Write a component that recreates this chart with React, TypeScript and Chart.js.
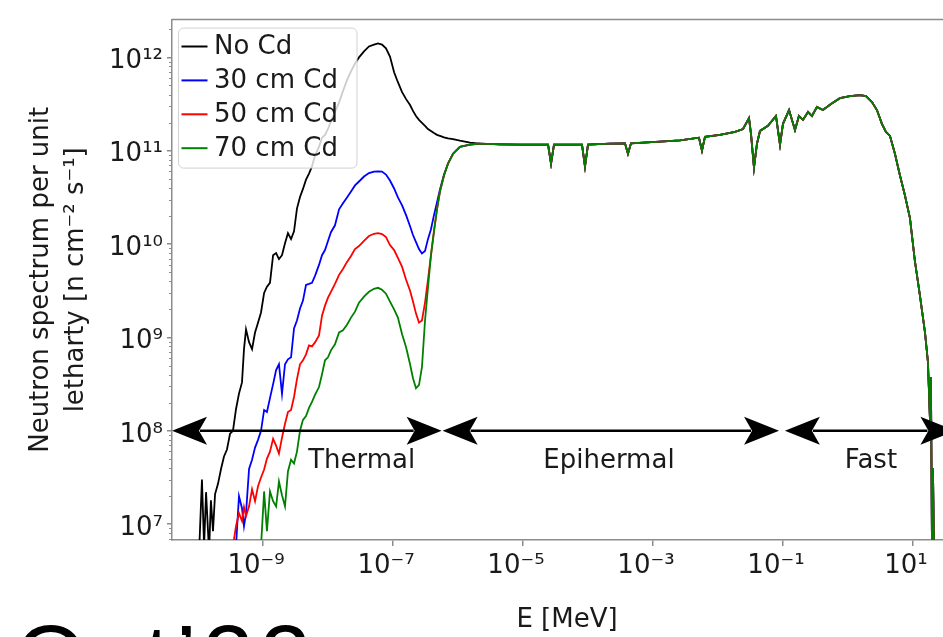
import React, { useEffect, useRef } from 'react';
import { Chart, registerables } from 'chart.js';

Chart.register(...registerables);

// ---------- data ----------
const seriesLabels = ['No Cd', '30 cm Cd', '50 cm Cd', '70 cm Cd'];
const seriesColors = ['#000000', '#0000ff', '#ff0000', '#008000'];

// thermal / transition region energies (MeV)
const energyLow = [
  1.04e-10, 1.15e-10, 1.24e-10, 1.33e-10, 1.48e-10, 1.58e-10, 1.70e-10, 1.83e-10, 2.03e-10, 2.26e-10,
  2.51e-10, 2.79e-10, 3.11e-10, 3.45e-10, 3.84e-10, 4.27e-10, 4.75e-10, 5.10e-10, 5.48e-10, 6.10e-10,
  6.78e-10, 7.54e-10, 8.38e-10, 9.32e-10, 1.04e-9, 1.15e-9, 1.28e-9, 1.43e-9, 1.59e-9, 1.76e-9,
  1.96e-9, 2.18e-9, 2.42e-9, 2.70e-9, 3.00e-9, 3.33e-9, 3.71e-9, 4.12e-9, 4.59e-9, 5.10e-9,
  5.67e-9, 6.31e-9, 7.27e-9, 8.09e-9, 8.99e-9, 1.00e-8, 1.11e-8, 1.28e-8, 1.48e-8, 1.70e-8,
  1.96e-8, 2.26e-8, 2.60e-8, 3.00e-8, 3.58e-8, 4.27e-8, 5.10e-8, 5.88e-8, 6.78e-8, 7.80e-8,
  8.99e-8, 1.04e-7, 1.19e-7, 1.38e-7, 1.59e-7, 1.83e-7, 2.03e-7, 2.26e-7, 2.51e-7, 2.79e-7,
  3.11e-7, 3.45e-7, 3.84e-7, 4.27e-7, 4.75e-7, 5.28e-7, 6.09e-7, 7.02e-7, 8.38e-7, 1.07e-6,
  1.53e-6,
];

const fluxNoCdLow = [
  5.0e6, 3.0e7, 5.8e6, 2.2e7, 5.0e6, 1.8e7, 8.4e6, 2.1e7, 2.7e7, 3.9e7,
  5.3e7, 6.3e7, 9.3e7, 1.0e8, 1.7e8, 2.5e8, 3.3e8, 7.5e8, 1.22e9, 8.9e8,
  7.5e8, 1.13e9, 1.44e9, 1.85e9, 3.0e9, 3.5e9, 3.85e9, 7.6e9, 8.0e9, 6.9e9,
  7.6e9, 1.02e10, 1.31e10, 1.13e10, 1.37e10, 2.4e10, 3.2e10, 3.9e10, 4.9e10, 5.7e10,
  6.8e10, 8.9e10, 1.10e11, 1.38e11, 1.48e11, 1.71e11, 2.08e11, 2.6e11, 3.3e11, 4.35e11,
  5.7e11, 7.1e11, 8.6e11, 1.0e12, 1.16e12, 1.31e12, 1.37e12, 1.41e12, 1.37e12, 1.25e12,
  1.02e12, 6.92e11, 5.42e11, 4.25e11, 3.57e11, 3.09e11, 2.67e11, 2.36e11, 2.14e11, 1.99e11,
  1.85e11, 1.71e11, 1.63e11, 1.55e11, 1.48e11, 1.44e11, 1.39e11, 1.36e11, 1.33e11, 1.28e11,
  1.22e11,
];

const fluxCd30Low = [
  null, null, null, null, null, null, null, null, null, null,
  null, null, null, null, 5.8e6, 1.99e7, 1.48e7, 9.5e6, 1.31e7, 3.9e7,
  4.9e7, 6.6e7, 8.0e7, 1.0e8, 1.67e8, 1.59e8, 2.24e8, 3.16e8, 4.46e8, 5.16e8,
  2.48e8, 5.16e8, 5.83e8, 6.12e8, 1.25e9, 1.52e9, 2.04e9, 2.48e9, 3.66e9, 3.75e9,
  3.85e9, 4.57e9, 5.98e9, 7.6e9, 8.63e9, 1.08e10, 1.34e10, 1.59e10, 2.36e10, 2.73e10,
  3.16e10, 3.66e10, 4.25e10, 4.68e10, 5.29e10, 5.76e10, 5.98e10, 6.0e10, 5.98e10, 5.56e10,
  4.80e10, 3.94e10, 3.16e10, 2.60e10, 2.04e10, 1.55e10, 1.25e10, 1.05e10, 8.85e9, 7.93e9,
  8.43e9, 1.13e10, 1.44e10, 2.04e10, 2.80e10, 3.85e10, 5.56e10, 7.27e10, 9.29e10, 1.10e11,
  1.16e11,
];

const fluxCd50Low = [
  null, null, null, null, null, null, null, null, null, null,
  null, null, null, 5.8e6, 9.5e6, 1.31e7, 1.08e7, 1.52e7, 1.22e7, 1.55e7,
  2.36e7, 1.76e7, 2.54e7, 3.16e7, 3.85e7, 5.04e7, 5.98e7, 8.2e7, 6.92e7, 5.69e7,
  8.43e7, 1.19e8, 1.59e8, 1.67e8, 2.30e8, 3.57e8, 5.16e8, 5.69e8, 6.59e8, 8.22e8,
  8.02e8, 8.85e8, 1.05e9, 1.71e9, 2.19e9, 2.67e9, 3.08e9, 3.75e9, 4.68e9, 5.42e9,
  6.44e9, 7.45e9, 8.85e9, 9.52e9, 1.08e10, 1.22e10, 1.29e10, 1.31e10, 1.28e10, 1.19e10,
  9.76e9, 8.63e9, 7.10e9, 5.69e9, 4.14e9, 3.16e9, 2.42e9, 1.80e9, 1.44e9, 1.52e9,
  2.36e9, 4.14e9, 7.6e9, 1.37e10, 2.36e10, 3.66e10, 5.42e10, 7.27e10, 9.29e10, 1.10e11,
  1.16e11,
];

const fluxCd70Low = [
  null, null, null, null, null, null, null, null, null, null,
  null, null, null, null, null, null, null, null, null, null,
  null, null, null, 5.8e6, 2.24e7, 8.4e6, 2.24e7, 1.76e7, 1.55e7, 2.86e7,
  2.04e7, 1.55e7, 3.66e7, 4.9e7, 4.46e7, 5.98e7, 1.0e8, 1.31e8, 1.44e8, 1.76e8,
  2.04e8, 2.42e8, 2.94e8, 4.04e8, 5.69e8, 6.12e8, 7.27e8, 8.43e8, 1.13e9, 1.19e9,
  1.37e9, 1.63e9, 1.89e9, 2.36e9, 2.73e9, 3.08e9, 3.32e9, 3.40e9, 3.24e9, 2.94e9,
  2.42e9, 2.0e9, 1.63e9, 1.08e9, 7.83e8, 5.16e8, 3.66e8, 2.86e8, 3.08e8, 4.80e8,
  1.52e9, 3.40e9, 7.6e9, 1.37e10, 2.36e10, 3.66e10, 5.42e10, 7.27e10, 9.29e10, 1.10e11,
  1.16e11,
];

// epithermal + fast region, common to all four spectra
const energyHigh = [
  2.18e-6, 4.43e-6, 9.0e-6, 2.43e-5, 2.70e-5, 3.0e-5, 8.09e-5, 8.99e-5, 1.0e-4, 2.18e-4,
  3.71e-4, 4.12e-4, 4.59e-4, 1.28e-3, 2.60e-3, 5.10e-3, 5.67e-3, 6.31e-3, 1.07e-2, 1.83e-2,
  2.43e-2, 3.0e-2, 3.22e-2, 3.58e-2, 3.98e-2, 4.43e-2, 5.87e-2, 7.80e-2, 9.0e-2, 0.100,
  0.124, 0.153, 0.176, 0.203, 0.243, 0.279, 0.333, 0.412, 0.547, 0.753,
  1.07, 1.53, 1.89, 2.34, 2.79, 3.33, 3.84, 4.43, 5.28, 6.31,
  7.53, 9.0, 10.7, 12.8, 15.3, 17.0, 18.3, 18.9, 19.6, 20.3,
  21.0,
];
const fluxHigh = [
  1.19e11, 1.17e11, 1.16e11, 1.16e11, 7.27e10, 1.16e11, 1.16e11, 6.76e10, 1.16e11, 1.19e11,
  1.2e11, 9.29e10, 1.2e11, 1.25e11, 1.29e11, 1.38e11, 1.0e11, 1.41e11, 1.48e11, 1.59e11,
  1.71e11, 2.24e11, 1.52e11, 6.59e10, 1.19e11, 1.63e11, 1.85e11, 2.36e11, 1.16e11, 1.94e11,
  2.73e11, 1.67e11, 2.36e11, 2.14e11, 2.60e11, 2.36e11, 2.94e11, 2.73e11, 3.16e11, 3.66e11,
  3.85e11, 3.94e11, 3.85e11, 3.32e11, 2.73e11, 1.94e11, 1.59e11, 1.44e11, 9.29e10, 5.42e10,
  3.32e10, 1.89e10, 6.59e9, 2.80e9, 1.13e9, 5.42e8, 1.25e8, 3.75e8, 5.8e6, 4.0e7,
  5.8e6,
];

const xTickValues = [1e-9, 1e-7, 1e-5, 1e-3, 1e-1, 1e1];
const xTickLabels = ['10⁻⁹', '10⁻⁷', '10⁻⁵', '10⁻³', '10⁻¹', '10¹'];
const yTickValues = [1e7, 1e8, 1e9, 1e10, 1e11, 1e12];
const yTickLabels = ['10⁷', '10⁸', '10⁹', '10¹⁰', '10¹¹', '10¹²'];

const regionNames = ['Thermal', 'Epihermal', 'Fast'];
const regionStart = [3.98e-11, 5.8e-7, 1.07e-1];
const regionEnd = [5.6e-7, 8.7e-2, 45];
const regionLabelE = [3.3e-8, 2.1e-4, 2.26];
const arrowFlux = 1e8;

const xMin = 3.98e-11;
const xMax = 56.8;
const yMin = 6.76e6;
const yMax = 2.54e12;

// ---------- styling ----------
const FONT = 'DejaVu Sans';
const TEXT = '#1a1a1a';
const AXIS = '#8c8c8c';

function buildSeries(low: (number | null)[]) {
  const pts: { x: number; y: number }[] = [];
  energyLow.forEach((e, i) => {
    const v = low[i];
    if (v !== null && v !== undefined) pts.push({ x: e, y: v });
  });
  energyHigh.forEach((e, i) => pts.push({ x: e, y: fluxHigh[i] }));
  return pts;
}

const overlayPlugin = {
  id: 'overlay',
  afterDatasetsDraw(chart: any) {
    const { ctx, chartArea, scales } = chart;
    const xs = scales.x;
    const ys = scales.y;
    ctx.save();
    // frame top and right
    ctx.strokeStyle = AXIS;
    ctx.lineWidth = 1.5;
    ctx.beginPath();
    ctx.moveTo(chartArea.left, chartArea.top);
    ctx.lineTo(chartArea.right, chartArea.top);
    ctx.lineTo(chartArea.right, chartArea.bottom);
    ctx.stroke();
    // minor y ticks
    ctx.lineWidth = 1;
    ctx.beginPath();
    for (let p = 6; p <= 12; p++) {
      for (let k = 2; k <= 9; k++) {
        const v = k * Math.pow(10, p);
        if (v < yMin || v > yMax) continue;
        const py = Math.round(ys.getPixelForValue(v)) + 0.5;
        ctx.moveTo(chartArea.left - 3, py);
        ctx.lineTo(chartArea.left, py);
      }
    }
    ctx.stroke();

    // arrows
    const ay = ys.getPixelForValue(arrowFlux);
    const head = (tx: number, dir: number) => {
      ctx.beginPath();
      ctx.moveTo(tx, ay);
      ctx.lineTo(tx - dir * 35, ay - 14);
      ctx.lineTo(tx - dir * 27, ay);
      ctx.lineTo(tx - dir * 35, ay + 14);
      ctx.closePath();
      ctx.fill();
    };
    ctx.fillStyle = '#000';
    ctx.strokeStyle = '#000';
    ctx.lineWidth = 2.5;
    regionNames.forEach((name, i) => {
      const x1 = xs.getPixelForValue(regionStart[i]);
      const x2 = xs.getPixelForValue(regionEnd[i]);
      ctx.beginPath();
      ctx.moveTo(x1 + 28, ay);
      ctx.lineTo(x2 - 28, ay);
      ctx.stroke();
      head(x1, -1);
      head(x2, 1);
      ctx.fillStyle = TEXT;
      ctx.font = `26px "${FONT}"`;
      ctx.textAlign = 'center';
      ctx.textBaseline = 'alphabetic';
      ctx.fillText(name, xs.getPixelForValue(regionLabelE[i]), ay + 37);
      ctx.fillStyle = '#000';
    });
    ctx.restore();
  },
  afterDraw(chart: any) {
    const { ctx, chartArea } = chart;
    ctx.save();
    const lx = chartArea.left + 6.5;
    const ly = chartArea.top + 8.5;
    const lw = 178.5;
    const lh = 140;
    ctx.beginPath();
    ctx.roundRect(lx, ly, lw, lh, 5);
    ctx.fillStyle = 'rgba(255,255,255,0.8)';
    ctx.fill();
    ctx.strokeStyle = 'rgba(204,204,204,0.9)';
    ctx.lineWidth = 1;
    ctx.stroke();
    chart.data.datasets.forEach((ds: any, i: number) => {
      const ry = ly + 18.4 + i * 33.9;
      ctx.strokeStyle = ds.borderColor;
      ctx.lineWidth = 2;
      ctx.beginPath();
      ctx.moveTo(lx + 3, ry);
      ctx.lineTo(lx + 29, ry);
      ctx.stroke();
      ctx.fillStyle = TEXT;
      ctx.font = `26px "${FONT}"`;
      ctx.textAlign = 'left';
      ctx.textBaseline = 'middle';
      ctx.fillText(ds.label, lx + 35.5, ry + 1);
    });
    ctx.restore();
  },
};

export default function App() {
  const ref = useRef<HTMLCanvasElement | null>(null);

  useEffect(() => {
    if (!ref.current) return;
    const lows = [fluxNoCdLow, fluxCd30Low, fluxCd50Low, fluxCd70Low];
    const chart = new Chart(ref.current, {
      type: 'line',
      data: {
        datasets: seriesLabels.map((label, i) => ({
          label,
          data: buildSeries(lows[i]),
          borderColor: seriesColors[i],
          backgroundColor: seriesColors[i],
          borderWidth: 1.8,
          pointRadius: 0,
          tension: 0,
          fill: false,
          order: 4 - i,
        })),
      },
      options: {
        responsive: false,
        animation: false,
        events: [],
        layout: { padding: { top: 15, right: 8, left: 0, bottom: 0 } },
        plugins: { legend: { display: false }, tooltip: { enabled: false } },
        scales: {
          x: {
            type: 'logarithmic',
            min: xMin,
            max: xMax,
            afterFit: (s: any) => { s.height = 97; },
            afterBuildTicks: (s: any) => { s.ticks = xTickValues.map((v) => ({ value: v })); },
            ticks: {
              callback: (_v: any, i: number) => xTickLabels[i],
              font: { family: FONT, size: 26 },
              color: TEXT,
              padding: 5,
              labelOffset: -7,
              maxRotation: 0,
              autoSkip: false,
            },
            grid: { drawOnChartArea: false, drawTicks: true, tickLength: 6, color: AXIS, lineWidth: 1.5 },
            border: { display: true, color: AXIS, width: 1.5 },
            title: {
              display: true,
              text: 'E [MeV]',
              font: { family: FONT, size: 26, lineHeight: 1.2 },
              color: TEXT,
              padding: { top: 0, bottom: 1 },
            },
          },
          y: {
            type: 'logarithmic',
            min: yMin,
            max: yMax,
            afterFit: (s: any) => { s.width = 172; },
            afterBuildTicks: (s: any) => { s.ticks = yTickValues.map((v) => ({ value: v })); },
            ticks: {
              callback: (_v: any, i: number) => yTickLabels[i],
              font: { family: FONT, size: 26 },
              color: TEXT,
              padding: 4,
              labelOffset: 4,
              autoSkip: false,
            },
            grid: { drawOnChartArea: false, drawTicks: true, tickLength: 5, color: AXIS, lineWidth: 1.5 },
            border: { display: true, color: AXIS, width: 1.5 },
            title: {
              display: true,
              text: ['Neutron spectrum per unit', 'letharty [n cm⁻² s⁻¹]'],
              font: { family: FONT, size: 26, lineHeight: 1.346 },
              color: TEXT,
              padding: { top: 23.5, bottom: 0 },
            },
          },
        },
      },
      plugins: [overlayPlugin],
    } as any);
    return () => chart.destroy();
  }, []);

  return (
    <div style={{ position: 'fixed', left: 0, top: 0, width: 943, height: 637, overflow: 'hidden', background: '#fff' }}>
      <canvas ref={ref} width={970} height={637} style={{ display: 'block' }} />
      <div
        style={{
          position: 'absolute',
          left: 15,
          top: 612,
          fontFamily: '"Liberation Sans", Arial, sans-serif',
          fontSize: 92,
          lineHeight: 1,
          color: '#000',
          whiteSpace: 'nowrap',
          letterSpacing: 6,
        }}
      >
        Oct’22
      </div>
    </div>
  );
}
